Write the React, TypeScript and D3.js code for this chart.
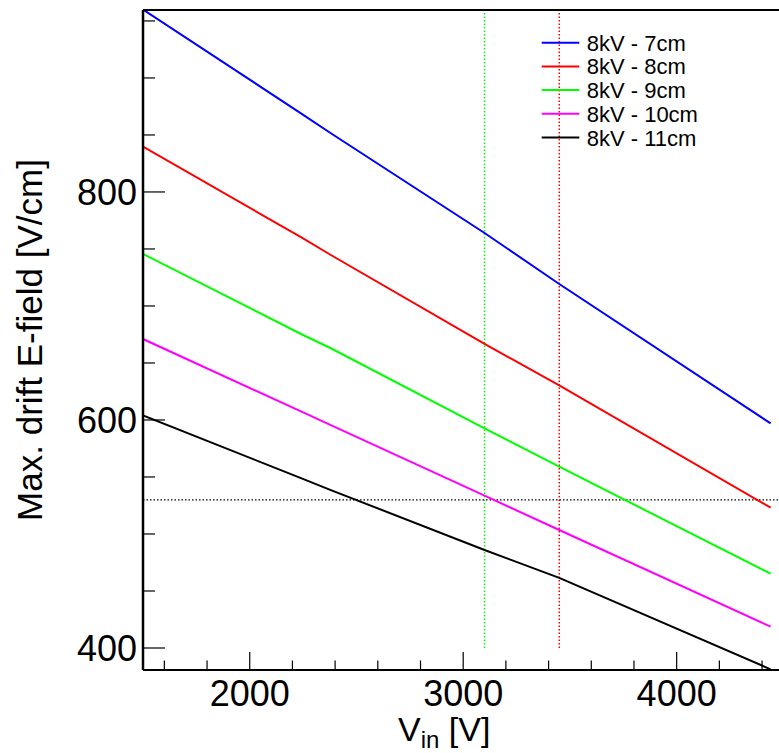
import React from "react";
import * as d3 from "d3";

// Vin samples [V]
const vin = [1500, 2240, 2380, 3100, 3450, 4440];

const seriesNames = ["8kV - 7cm", "8kV - 8cm", "8kV - 9cm", "8kV - 10cm", "8kV - 11cm"];
const seriesColors = ["#0000ff", "#ff0000", "#00ff00", "#ff00ff", "#000000"];

// Max drift E-field [V/cm]
const field7 = [960, 869, 851.5, 764, 719.3, 597];
const field8 = [839.7, 760.3, 744.7, 666.7, 630.4, 523.1];
const field9 = [745.6, 675.4, 662.9, 592.7, 559, 465.2];
const field10 = [671, 607.5, 595.5, 533.6, 503.5, 418.7];
const field11 = [604, 549, 538.5, 486, 461.5, 381.3];
const allFields = [field7, field8, field9, field10, field11];

const xMajor = [2000, 3000, 4000];
const yMajor = [400, 600, 800];

// marker lines
const greenLineV = 3100;
const redLineV = 3450;
const hLineE = 530;

const W = 779;
const H = 753;
const left = 143;
const top = 10;
const bottom = 670;

export default function App() {
  const x = d3.scaleLinear().domain([1500, 4500]).range([left, 783.4]);
  const y = d3.scaleLinear().domain([380.7, 959.6]).range([bottom, top]);
  const font = "'Liberation Sans', Arial, Helvetica, sans-serif";

  const xMinor = d3.range(1600, 4500, 200).filter((v) => !xMajor.includes(v));
  const yMinor = d3.range(400, 960, 50).filter((v) => !yMajor.includes(v));

  const line = d3
    .line<number>()
    .x((_, i) => x(vin[i]))
    .y((d) => y(d));

  return (
    <svg
      width={W}
      height={H}
      style={{ position: "absolute", left: 0, top: 0, background: "#fff" }}
      fontFamily={font}
    >
      <defs>
        <clipPath id="plot">
          <rect x={left} y={top} width={783.4 - left} height={bottom - top} />
        </clipPath>
      </defs>

      {/* dotted markers */}
      <line x1={x(greenLineV)} x2={x(greenLineV)} y1={y(400)} y2={top}
        stroke="#00ff00" strokeWidth={1.5} strokeDasharray="1.5,2" />
      <line x1={x(redLineV)} x2={x(redLineV)} y1={y(400)} y2={top}
        stroke="#ff0000" strokeWidth={1.5} strokeDasharray="1.5,2" />
      <line x1={x(1500)} x2={x(4500)} y1={y(hLineE)} y2={y(hLineE)}
        stroke="#000" strokeWidth={1.2} strokeDasharray="1.5,2" />

      <g clipPath="url(#plot)">
        {allFields.map((f, i) => (
          <path key={i} d={line(f) || ""} fill="none" stroke={seriesColors[i]} strokeWidth={2} />
        ))}
      </g>

      {/* frame */}
      <line x1={left} x2={W} y1={top} y2={top} stroke="#000" strokeWidth={2} />
      <line x1={left} x2={left} y1={top} y2={bottom} stroke="#000" strokeWidth={2.5} />
      <line x1={left} x2={W} y1={bottom} y2={bottom} stroke="#000" strokeWidth={2} />

      {/* x ticks */}
      {xMajor.map((v) => (
        <g key={v}>
          <line x1={x(v)} x2={x(v)} y1={bottom} y2={bottom - 18} stroke="#000" strokeWidth={1.2} />
          <text x={x(v)} y={706} fontSize={36} textAnchor="middle">{v}</text>
        </g>
      ))}
      {xMinor.map((v) => (
        <line key={v} x1={x(v)} x2={x(v)} y1={bottom} y2={bottom - 9.5} stroke="#000" strokeWidth={1.2} />
      ))}

      {/* y ticks */}
      {yMajor.map((v) => (
        <g key={v}>
          <line x1={left} x2={left + 22} y1={y(v)} y2={y(v)} stroke="#000" strokeWidth={1.2} />
          <text x={137} y={y(v) + 13} fontSize={36} textAnchor="end">{v}</text>
        </g>
      ))}
      {yMinor.map((v) => (
        <line key={v} x1={left} x2={left + 12} y1={y(v)} y2={y(v)} stroke="#000" strokeWidth={1.2} />
      ))}

      {/* axis titles */}
      <text transform="translate(42,340) rotate(-90)" fontSize={35} textAnchor="middle">
        Max. drift E-field [V/cm]
      </text>
      <text x={398} y={741} fontSize={34}>
        V<tspan fontSize={24} dy={7}>in</tspan>
        <tspan dy={-7}> [V]</tspan>
      </text>

      {/* legend */}
      {seriesNames.map((n, i) => {
        const ly = 42.7 + i * 23.7;
        return (
          <g key={n}>
            <line x1={541.7} x2={579.3} y1={ly} y2={ly} stroke={seriesColors[i]} strokeWidth={2} />
            <text x={586.7} y={ly + 8} fontSize={22}>{n}</text>
          </g>
        );
      })}
    </svg>
  );
}
